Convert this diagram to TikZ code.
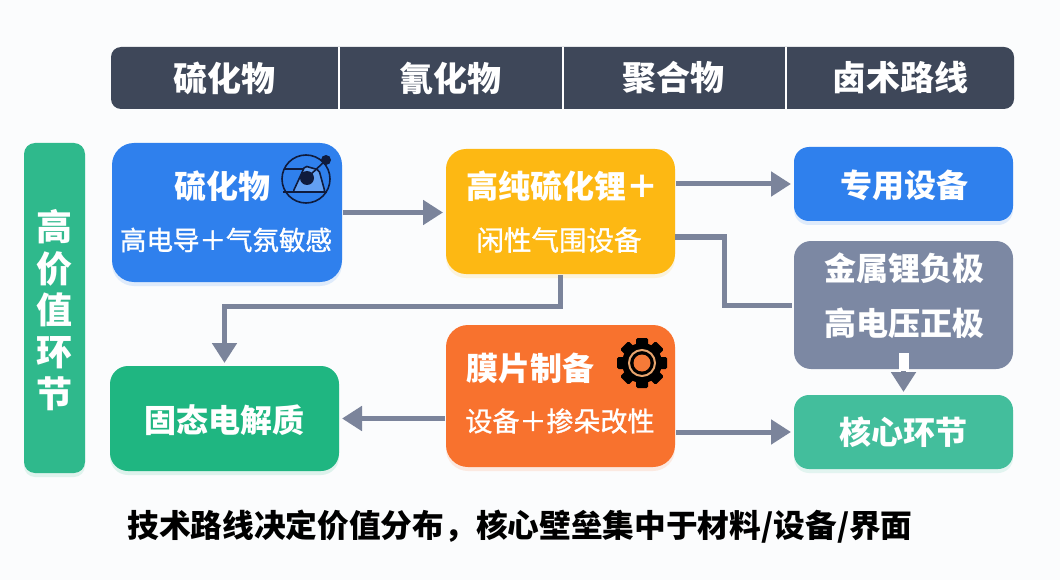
\documentclass[tikz,border=0pt]{standalone}
\usepackage{fontspec}
\newfontfamily\cjk{Noto Sans CJK SC}
\newfontfamily\cjkm[FakeBold=1.2]{Noto Sans CJK SC}
\usetikzlibrary{arrows.meta,shadows}
\definecolor{pagebg}{HTML}{FBFCFD}
\definecolor{headc}{HTML}{3E4759}
\definecolor{leftc}{HTML}{2FB98C}
\definecolor{bluec}{HTML}{2F80ED}
\definecolor{yellowc}{HTML}{FDB813}
\definecolor{orangec}{HTML}{F8722E}
\definecolor{greenc}{HTML}{1FB681}
\definecolor{grayc}{HTML}{7C88A3}
\definecolor{tealc}{HTML}{43BE9C}
\definecolor{linec}{HTML}{7B849B}
\definecolor{iconc}{HTML}{0F1B3D}
\definecolor{ringc}{HTML}{E8A56E}
\tikzset{
  x=1pt,y=-1pt,
  every node/.style={inner sep=0pt,outer sep=0pt},
  box/.style n args={3}{rounded corners=#3,minimum width=#1,minimum height=#2,anchor=center},
  softbox/.style={fill=#1,drop shadow={shadow xshift=0pt,shadow yshift=-4pt,fill=#1!45!white,opacity=.3}},
  lab/.style n args={2}{font=\cjk\bfseries\fontsize{#1}{#1}\selectfont,text=#2,anchor=center},
  sublab/.style={font=\cjkm\fontsize{#1}{#1}\selectfont,text=white,anchor=center},
  flow/.style={draw=linec,line width=5pt,-{Triangle[length=20pt,width=24pt]},shorten >=3pt,shorten <=1pt},
  flowplain/.style={draw=linec,line width=5pt},
  divider/.style={draw=white,line width=1.2pt},
  iconline/.style={draw=iconc,line width=1.6pt},
}
\begin{document}
\begin{tikzpicture}
\path[use as bounding box,fill=pagebg] (0,0) rectangle (1060,580);

% header band
\node[box={903pt}{62pt}{10pt},fill=headc] (head) at (562.5,78) {};
\coordinate (d1t) at (339,47); \coordinate (d1b) at (339,109);
\coordinate (d2t) at (563,47); \coordinate (d2b) at (563,109);
\coordinate (d3t) at (786,47); \coordinate (d3b) at (786,109);
\draw[divider] (d1t) -- (d1b);
\draw[divider] (d2t) -- (d2b);
\draw[divider] (d3t) -- (d3b);
\node[lab={34pt}{white}] (h1) at (224,78) {硫化物};
\node[lab={34pt}{white}] (h2) at (450,78) {氰化物};
\node[lab={34pt}{white}] (h3) at (673,78) {聚合物};
\node[lab={34pt}{white}] (h4) at (900,78) {卤术路线};

% left band
\node[box={61pt}{330pt}{11pt},softbox=leftc] (left) at (54.5,308) {};
\node[text=white,anchor=center,align=center,font=\cjk\bfseries\fontsize{36pt}{41.6pt}\selectfont] (leftt) at (54.5,310) {高\\价\\值\\环\\节};

% boxes
\node[box={230pt}{139pt}{22pt},softbox=bluec] (blue) at (227,212.5) {};
\node[box={229pt}{125pt}{20pt},softbox=yellowc] (yellow) at (560.5,211.5) {};
\node[box={229pt}{142pt}{22pt},softbox=orangec] (orange) at (560.5,396) {};
\node[box={229pt}{105pt}{18pt},softbox=greenc] (green) at (224.5,418.5) {};
\node[box={219pt}{74pt}{15pt},softbox=bluec] (rblue) at (903.5,184) {};
\node[box={219pt}{128pt}{17pt},fill=grayc] (gray) at (903.5,305) {};
\node[box={219pt}{74pt}{15pt},softbox=tealc] (teal) at (903.5,432) {};

% box texts
\node[lab={32pt}{white}] (t1) at (222,186) {硫化物};
\node[sublab=26.5pt] (t1b) at (226,240) {高电导＋气氛敏感};
\node[lab={32pt}{white}] (t2) at (562,186) {高纯硫化锂＋};
\node[sublab=27.5pt] (t2b) at (559,240) {闲性气围设备};
\node[lab={32pt}{white}] (t3) at (530,368) {膜片制备};
\node[sublab=27pt] (t3b) at (560,421) {设备＋掺朵改性};
\node[lab={32pt}{white}] (t4) at (224,420) {固态电解质};
\node[lab={32pt}{white}] (t5) at (904,185) {专用设备};
\node[lab={32pt}{white}] (t6) at (904,268) {金属锂负极};
\node[lab={32pt}{white}] (t6b) at (904,323) {高电压正极};
\node[lab={32pt}{white}] (t7) at (903,432) {核心环节};
\node[lab={31.7pt}{black}] (foot) at (520,527) {技术路线决定价值分布，核心壁垒集中于材料/设备/界面};

% connectors
\coordinate (mid) at (400,306);
\coordinate (stemtop) at (903.5,353);
\coordinate (stembot) at (903.5,373);
\coordinate (headtop) at (903.5,371);
\coordinate (elbow) at (724,237);
\draw[flow] (blue.east) -- (yellow.west |- blue.east);
\draw[flow] (yellow.east |- rblue.west) -- (rblue.west);
\draw[flowplain] (yellow.east |- elbow) -- (elbow) |- ([xshift=-2pt]gray.west);
\draw[flow,rounded corners=0pt] (yellow.south) |- (mid) -| (green.north);
\draw[flow] (orange.west |- green.east) -- (green.east);
\draw[flow] (orange.east |- teal.west) -- (teal.west);
\draw[draw=white,line width=10pt] (stemtop) -- (stembot);
\draw[flow,shorten <=0pt] (headtop) -- (teal.north);

% atom icon
\draw[iconline] (306,179) circle (24);
\draw[iconline] (284,169) -- (312,169);
\draw[iconline] (283,192) -- (327,192);
\draw[iconline,fill=bluec!75!white,rounded corners=2pt] (293,192) -- (305,166) -- (319,170) -- (325,192) -- cycle;
\draw[iconline] (307,178) -- (326,160);
\fill[iconc] (307,178) circle (7);
\fill[iconc] (326,160) circle (5);

% gear icon
\foreach \a in {0,45,...,315} {
  \fill[black,rounded corners=1.5pt,rotate around={\a:(642,363)}] (636,338) rectangle (648,352);
}
\fill[black] (642,363) circle (20);
\draw[ringc,line width=2pt] (642,363) circle (13);
\fill[orangec!85!ringc] (642,363) circle (8.5);
\end{tikzpicture}
\end{document}
